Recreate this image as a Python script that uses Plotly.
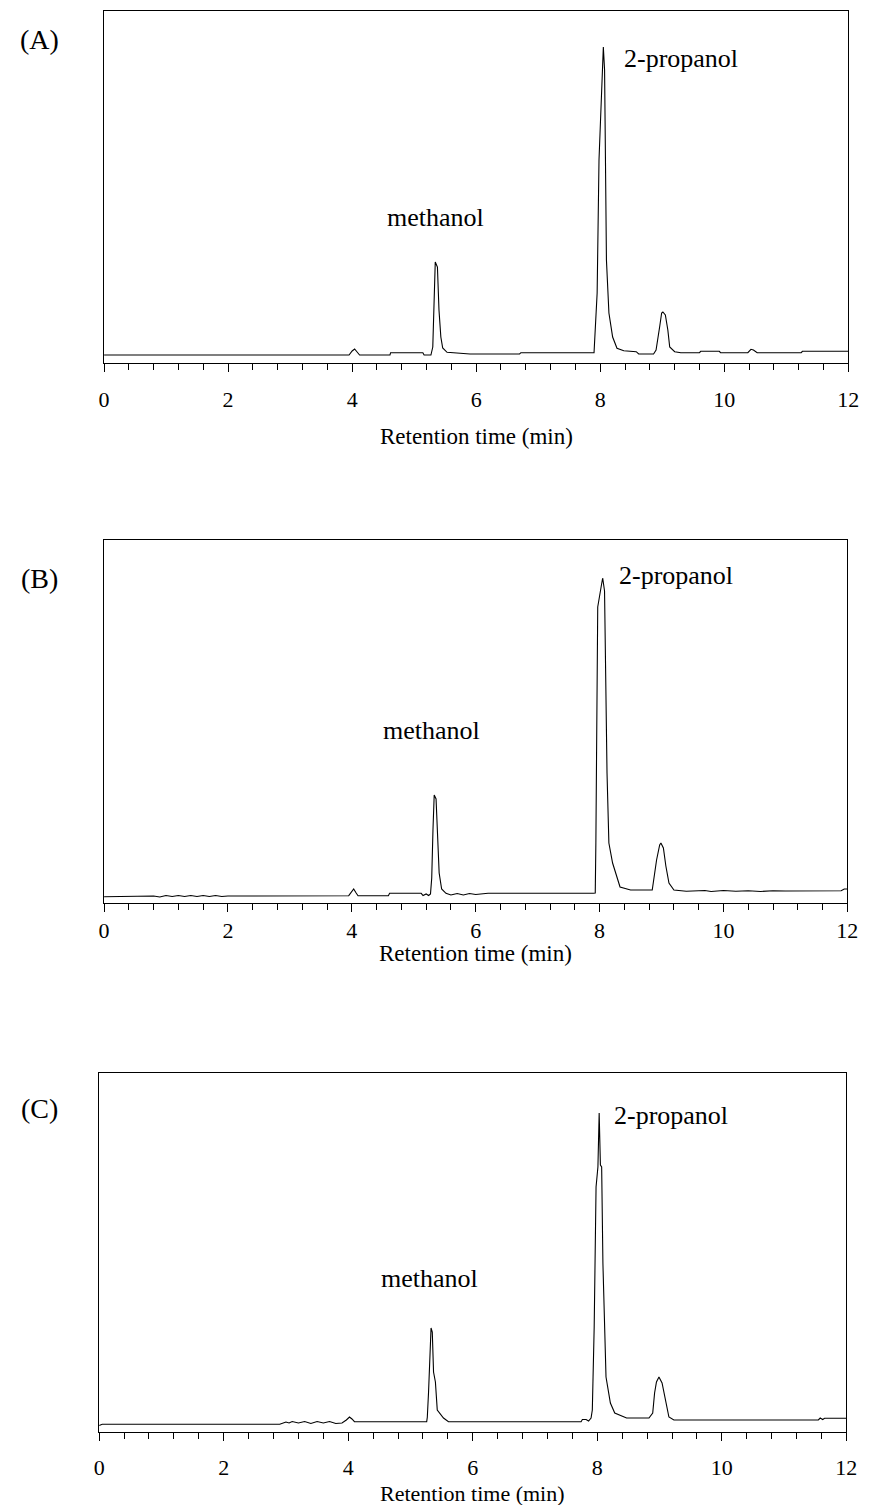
import plotly.graph_objects as go

# ---------------- data (retention time in min, detector signal in arbitrary units) -------------
time_a = [0.00, 0.60, 1.00, 1.60, 2.40, 3.20, 3.95, 4.00, 4.04, 4.08, 4.12, 4.61, 4.62, 5.14, 5.16,
          5.24, 5.27, 5.30, 5.32, 5.34, 5.375, 5.40, 5.43, 5.46, 5.53, 5.85, 5.90, 6.70, 6.72, 7.90,
          7.93, 7.95, 7.98, 8.01, 8.05, 8.07, 8.09, 8.10, 8.14, 8.20, 8.27, 8.38, 8.58, 8.62, 8.86,
          8.90, 8.96, 8.99, 9.01, 9.05, 9.09, 9.12, 9.20, 9.30, 9.60, 9.62, 9.92, 9.94, 10.38, 10.43,
          10.47, 10.53, 11.24, 11.26, 12.00]
signal_a = [8, 8, 8.5, 8, 8.5, 8, 8, 12, 14, 11, 8, 8, 10.3, 10.3, 8,
            8, 8, 16, 76, 101, 96, 53, 26, 15, 10.7, 9.7, 9, 9, 10.3, 10.3,
            43, 70, 203, 250, 316, 293, 200, 103, 50, 26, 14.7, 12.3, 11.3, 9, 9,
            13, 37, 50, 51, 48, 33, 16, 11.3, 10.3, 10.3, 11.7, 11.7, 10.3, 10.3, 13.7,
            13, 10.3, 10.3, 11.7, 11.7]

time_b = [0.00, 0.70, 0.80, 0.90, 1.00, 1.10, 1.20, 1.30, 1.40, 1.50, 1.60, 1.70, 1.80, 1.90, 2.00,
          3.95, 4.00, 4.03, 4.07, 4.10, 4.59, 4.61, 5.12, 5.15, 5.20, 5.24, 5.27, 5.29, 5.31, 5.33,
          5.36, 5.38, 5.41, 5.45, 5.52, 5.60, 5.70, 5.80, 5.90, 6.00, 6.20, 7.90, 7.93, 7.94, 7.95,
          7.97, 8.03, 8.05, 8.08, 8.10, 8.12, 8.15, 8.21, 8.33, 8.50, 8.85, 8.88, 8.92, 8.97, 8.99,
          9.03, 9.07, 9.12, 9.20, 9.40, 9.70, 9.80, 10.00, 10.20, 10.40, 10.60, 10.80, 11.00, 11.50,
          11.90, 11.95, 12.00]
signal_b = [6.3, 6.3, 7, 6, 7.5, 6.5, 7.5, 6.5, 7.5, 6.5, 7.5, 6.5, 7.5, 6.5, 7,
            7.3, 12, 14, 10, 7.3, 7.3, 9.7, 9.7, 7.5, 9, 7.5, 9, 25, 73, 108,
            104, 75, 30, 14, 9.7, 8, 9.5, 8, 9.5, 8.5, 9.7, 9.7, 10, 60, 166,
            296, 318, 325, 312, 230, 130, 60, 40, 16, 13, 13, 26, 43, 58, 60,
            55, 37, 20, 13, 11.7, 12.5, 11.5, 12.5, 11.8, 12.3, 11.5, 12.3, 12.0, 12.3,
            12.3, 14, 14]

time_c = [0.00, 0.05, 2.90, 2.95, 3.00, 3.05, 3.10, 3.20, 3.30, 3.40, 3.50, 3.60, 3.70, 3.80, 3.90,
          3.97, 4.02, 4.06, 4.10, 5.26, 5.27, 5.29, 5.31, 5.32, 5.33, 5.35, 5.37, 5.40, 5.43, 5.53,
          5.61, 7.74, 7.76, 7.82, 7.86, 7.90, 7.92, 7.95, 7.98, 8.01, 8.03, 8.05, 8.07, 8.09, 8.12,
          8.14, 8.21, 8.28, 8.47, 8.83, 8.89, 8.92, 8.95, 8.99, 9.04, 9.09, 9.15, 9.23, 11.55, 11.58,
          11.62, 11.65, 12.00]
signal_c = [6.5, 7.7, 7.7, 8.5, 10, 9, 10.5, 9, 10.5, 8.5, 10.5, 9, 10.5, 8.5, 9,
            12, 15, 13, 10.3, 10.3, 14.7, 40, 72, 100, 104, 100, 60, 50, 22, 14,
            10.3, 10.3, 12.5, 12.5, 11, 14, 22, 105, 245, 265, 319, 267, 265, 169, 99,
            55, 29, 19, 14, 14, 19, 39, 50, 55, 49, 32, 15, 12, 12, 14,
            12.5, 13.7, 13.7]

panel_letters = ["(A)", "(B)", "(C)"]
peak_names = ["methanol", "2-propanol"]
x_title = "Retention time (min)"
x_tickvals = [0, 2, 4, 6, 8, 10, 12]

# ---------------- layout geometry (pixels in a 876 x 1505 page) ---------------------------------
W, H = 876, 1505
panels = [
    dict(t=time_a, s=signal_a, left=100, right=859, top=11, bottom=363,
         letter_y=40, meth=(5.34, 146), prop=(8.35, 305), tick_standoff=9, title_y=436),
    dict(t=time_b, s=signal_b, left=100, right=858, top=540, bottom=903,
         letter_y=578, meth=(5.29, 173), prop=(8.28, 328), tick_standoff=0, title_y=953),
    dict(t=time_c, s=signal_c, left=95, right=857, top=1073, bottom=1432,
         letter_y=1108, meth=(5.30, 154), prop=(8.24, 317), tick_standoff=8, title_y=1493),
]

SERIF = "Liberation Serif, Times New Roman, serif"
fig = go.Figure()
annotations = []

for i, p in enumerate(panels, start=1):
    xa = "x" if i == 1 else f"x{i}"
    ya = "y" if i == 1 else f"y{i}"
    fig.add_trace(go.Scatter(x=p["t"], y=p["s"], mode="lines",
                             line=dict(color="black", width=1.1),
                             xaxis=xa, yaxis=ya, showlegend=False, hoverinfo="skip"))
    xkey = "xaxis" if i == 1 else f"xaxis{i}"
    ykey = "yaxis" if i == 1 else f"yaxis{i}"
    fig.layout[xkey] = dict(
        domain=[p["left"] / W, p["right"] / W], anchor=ya, range=[0, 12],
        tickvals=x_tickvals, ticks="outside", ticklen=8, tickwidth=1, tickcolor="black",
        minor=dict(dtick=0.4, tick0=0, ticks="outside", ticklen=6, tickwidth=1, tickcolor="black"),
        showline=True, linecolor="black", linewidth=1, mirror=True, showgrid=False, zeroline=False,
        tickfont=dict(family=SERIF, size=22, color="black"),
        ticklabelstandoff=p["tick_standoff"],
    )
    fig.layout[ykey] = dict(
        domain=[1 - p["bottom"] / H, 1 - p["top"] / H], anchor=xa,
        range=[0, p["bottom"] - p["top"]],
        showline=True, linecolor="black", linewidth=1, mirror=True,
        showticklabels=False, ticks="", showgrid=False, zeroline=False,
    )
    # x-axis title
    annotations.append(dict(text=x_title, xref="paper", yref="paper",
                            x=(p["left"] + p["right"]) / 2 / W, y=1 - p["title_y"] / H,
                            xanchor="center", yanchor="middle", showarrow=False,
                            font=dict(family=SERIF, size=23 if i < 3 else 22, color="black")))
    annotations.append(dict(text=panel_letters[i - 1], xref="paper", yref="paper",
                            x=34 / W, y=1 - p["letter_y"] / H, xanchor="center", yanchor="middle",
                            showarrow=False, font=dict(family=SERIF, size=28, color="black")))
    annotations.append(dict(text=peak_names[0], xref=xa, yref=ya,
                            x=p["meth"][0], y=p["meth"][1], xanchor="center", yanchor="middle",
                            showarrow=False, font=dict(family=SERIF, size=26, color="black")))
    annotations.append(dict(text=peak_names[1], xref=xa, yref=ya,
                            x=p["prop"][0], y=p["prop"][1], xanchor="left", yanchor="middle",
                            showarrow=False, font=dict(family=SERIF, size=26, color="black")))

fig.update_layout(width=W, height=H, margin=dict(l=0, r=0, t=0, b=0),
                  paper_bgcolor="white", plot_bgcolor="white", annotations=annotations)

fig.write_html("out.html", config={"displayModeBar": False},
               post_script="document.body.style.margin='0';document.body.style.overflow='hidden';")
